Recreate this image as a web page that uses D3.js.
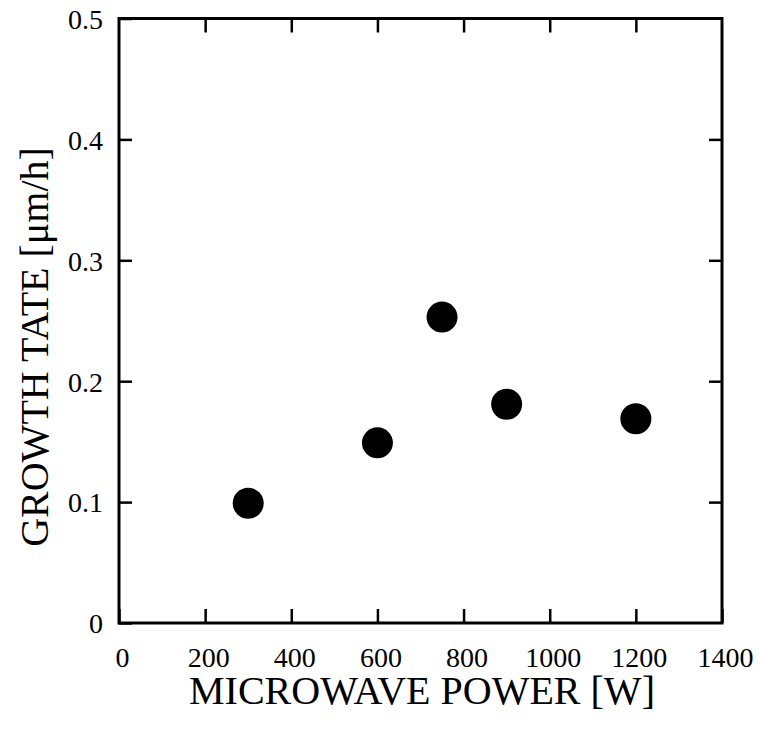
<!DOCTYPE html>
<html>
<head>
<meta charset="utf-8">
<script src="https://cdn.jsdelivr.net/npm/d3@7"></script>
<style>
  html, body { margin: 0; padding: 0; background: #fff; }
  svg { display: block; }
  text { font-family: "Liberation Serif", "DejaVu Serif", serif; fill: #000; }
</style>
</head>
<body>
<svg id="chart" width="759" height="730"></svg>
<script>
// Data
const powerW = [300, 600, 750, 900, 1200];
const growthRate = [0.099, 0.149, 0.253, 0.181, 0.169];
const xTicks = [0, 200, 400, 600, 800, 1000, 1200, 1400];
const yTicks = [0, 0.1, 0.2, 0.3, 0.4, 0.5];
const xTitle = "MICROWAVE POWER [W]";
const yTitle = "GROWTH TATE [\u03bcm/h]";

const svg = d3.select("#chart");
const mLeft = 119, mRight = 722, mTop = 18.5, mBottom = 623;

const x = d3.scaleLinear().domain([0, 1400]).range([mLeft, mRight]);
const y = d3.scaleLinear().domain([0, 0.5]).range([mBottom, mTop]);

const tickFmtY = d => d === 0 ? "0" : d3.format(".1f")(d);

// bottom axis
const gB = svg.append("g").attr("transform", `translate(0,${mBottom})`)
  .call(d3.axisBottom(x).tickValues(xTicks).tickSize(-14).tickFormat(d3.format("d")));
// top axis
const gT = svg.append("g").attr("transform", `translate(0,${mTop})`)
  .call(d3.axisTop(x).tickValues(xTicks.slice(1, -1)).tickSize(-14).tickFormat(""));
// left axis
const gL = svg.append("g").attr("transform", `translate(${mLeft},0)`)
  .call(d3.axisLeft(y).tickValues(yTicks).tickSize(-13).tickFormat(tickFmtY));
// right axis
const gR = svg.append("g").attr("transform", `translate(${mRight},0)`)
  .call(d3.axisRight(y).tickValues(yTicks.slice(1, -1)).tickSize(-13).tickFormat(""));

[gB, gT, gL, gR].forEach(g => {
  g.attr("font-family", null).attr("font-size", null);
  g.select(".domain").remove();
  g.selectAll(".tick line").attr("stroke", "#000").attr("stroke-width", 2.5);
});
gB.selectAll("text").attr("y", 44).attr("dy", 0).attr("dx", 3)
  .style("font-size", "28px");
gL.selectAll("text").attr("x", -16).attr("dy", "0.35em").style("font-size", "28px");

// frame
svg.append("rect")
  .attr("x", mLeft).attr("y", mTop)
  .attr("width", mRight - mLeft).attr("height", mBottom - mTop)
  .attr("fill", "none").attr("stroke", "#000").attr("stroke-width", 3);

// points
svg.append("g").selectAll("circle")
  .data(powerW.map((p, i) => ({ p, g: growthRate[i] })))
  .join("circle")
  .attr("cx", d => x(d.p))
  .attr("cy", d => y(d.g))
  .attr("r", 15.5)
  .attr("fill", "#000");

// titles
svg.append("text")
  .attr("x", 422).attr("y", 704)
  .attr("text-anchor", "middle")
  .style("font-size", "40px")
  .text(xTitle);

svg.append("text")
  .attr("transform", "translate(48,347) rotate(-90)")
  .attr("text-anchor", "middle")
  .style("font-size", "40px")
  .text(yTitle);
</script>
</body>
</html>
